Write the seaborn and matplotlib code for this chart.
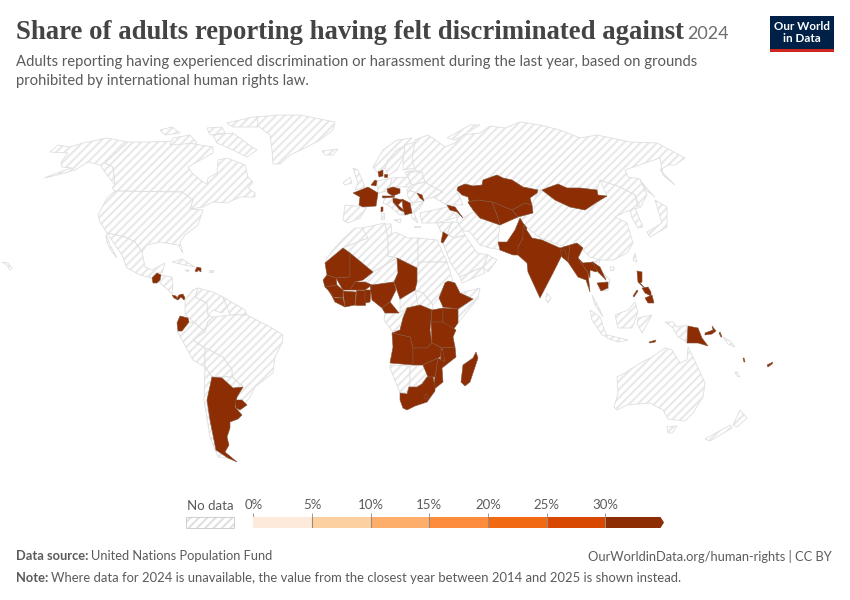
import numpy as np
import seaborn as sns
import matplotlib.pyplot as plt
from matplotlib.colors import ListedColormap
from matplotlib.patches import Rectangle

# legend
tick_labels = ['0%', '5%', '10%', '15%', '20%', '25%', '30%']
bin_colors = ['#feeadb', '#fdd0a2', '#fdae6b', '#fd8d3c', '#f16913', '#d94801', '#8c2d04']

# outlines (x, y)
# --- no data ---
alaska = [(44,178),(57,173),(72,168),(62,167),(61,162),(68,153),(50,152),(58,145),(70,147),(83,143),(107,138),(128,142),(105,163),(113,167),(115,185),(107,175),(100,165),(88,162),(75,170),(57,175)]
canada = [(128,142),(150,142),(175,141),(200,145),(213,147),(213,153),(188,167),(192,173),(203,182),(207,184),(208,178),(217,173),(218,160),(227,158),(245,165),(248,177),(253,182),(248,188),(255,193),(255,197),(240,197),(227,203),(213,202),(203,207),(190,209),(193,200),(182,192),(115,191),(112,188),(115,185),(113,167),(105,163)]
baffin = [(213,135),(233,133),(252,147),(257,150),(247,157),(233,150),(217,143)]
victoria = [(173,138),(190,135),(197,143),(170,145)]
ellesmere = [(227,123),(253,117),(277,117),(257,127),(233,127)]
banks = [(160,130),(172,127),(180,133),(165,135)]
devon = [(207,128),(222,127),(225,133),(210,135)]
greenland = [(257,117),(277,115),(300,115),(335,122),(333,130),(320,140),(305,148),(290,155),(280,164),(273,164),(272,150),(270,135),(258,126)]
usa = [(115,191),(182,192),(193,200),(190,209),(203,210),(198,225),(185,235),(180,242),(183,253),(178,245),(160,242),(147,245),(142,252),(135,242),(125,237),(107,233),(100,222),(98,215),(107,198)]
mexico = [(107,233),(125,237),(135,242),(142,252),(145,267),(152,270),(165,263),(162,273),(155,273),(152,278),(140,275),(127,268),(122,255),(115,245)]
baja = [(106,234),(110,245),(117,258),(112,252),(107,243)]
central_am = [(160,283),(159,280),(160,275),(172,277),(173,285),(172,294),(168,290)]
cuba = [(172,262),(182,259),(195,267),(185,265)]
jamaica = [(185,270),(189,270),(188,272)]
puerto_rico = [(209,270),(213,270),(213,272),(209,272)]
colombia = [(185,300),(193,290),(198,288),(195,297),(207,303),(208,315),(213,317),(208,322),(205,332),(200,328),(195,323),(189,318),(185,315)]
venezuela = [(198,288),(213,292),(223,297),(227,307),(222,313),(213,310),(208,315),(207,303),(195,297)]
guyanas = [(223,297),(245,310),(247,315),(230,315),(227,307)]
peru = [(177,331),(182,331),(189,322),(195,323),(205,332),(193,340),(205,348),(205,367),(193,360)]
brazil = [(213,317),(230,315),(247,315),(270,327),(283,335),(282,343),(275,357),(273,373),(255,387),(250,397),(242,407),(235,400),(243,387),(232,377),(232,370),(223,357),(205,348),(193,340),(205,332),(208,322)]
bolivia = [(205,348),(223,357),(232,370),(232,377),(212,377),(205,367)]
paraguay = [(212,377),(232,377),(243,387),(235,390),(227,383),(222,378)]
chile = [(205,367),(212,377),(207,400),(210,420),(216,450),(228,458),(218,457),(210,437),(204,400)]
morocco = [(325,263),(327,258),(333,250),(342,240),(355,228),(362,228),(368,230),(368,238),(345,247),(343,248)]
algeria = [(362,228),(385,223),(387,233),(388,238),(388,256),(397,258),(373,272),(343,248),(368,238)]
tunisia = [(385,224),(391,224),(392,235),(388,238)]
libya = [(388,238),(395,232),(408,238),(418,238),(418,268),(397,258),(388,256)]
egypt = [(418,238),(437,240),(447,262),(420,262),(418,268)]
niger = [(373,272),(397,258),(398,273),(394,282),(372,285),(365,282)]
sudan = [(417,268),(420,262),(447,262),(453,282),(445,283),(439,298),(433,305),(423,293),(415,290),(417,282)]
south_sudan = [(415,290),(423,293),(433,305),(432,310),(420,305),(418,305)]
car = [(400,299),(415,290),(418,305),(407,308),(400,313)]
eritrea_somalia = [(460,293),(480,288),(478,298),(458,323),(458,310),(473,299)]
gabon_congo = [(385,313),(399,313),(407,308),(403,318),(400,330),(392,331),(384,320)]
namibia = [(390,365),(410,366),(410,383),(407,392),(400,393),(390,368)]
botswana = [(410,366),(423,365),(428,377),(420,385),(410,387)]
spain = [(345,205),(367,207),(360,218),(348,223),(343,220)]
uk = [(353,168),(358,170),(365,187),(355,190),(358,183)]
ireland = [(343,183),(350,177),(352,183),(345,185)]
iceland = [(322,151),(338,149),(333,155),(325,155)]
norway = [(373,167),(383,150),(397,140),(412,138),(405,145),(397,150),(388,160),(385,168),(377,172)]
sweden = [(385,168),(388,160),(397,150),(405,147),(403,158),(397,170),(388,176)]
finland = [(405,145),(415,142),(420,158),(415,168),(403,170),(403,160)]
germany = [(377,181),(392,178),(390,187),(388,191),(378,193)]
poland = [(392,178),(408,177),(412,187),(400,187),(390,187)]
baltics = [(405,172),(415,170),(422,172),(408,177)]
belarus = [(408,172),(422,172),(425,182),(412,185),(408,177)]
ukraine = [(412,185),(425,182),(433,187),(443,192),(433,197),(423,200),(417,193),(407,190)]
italy = [(385,198),(395,197),(393,203),(403,213),(407,215),(400,215),(388,205),(383,203)]
sardinia = [(381,213),(384,213),(384,219),(381,219)]
sicily = [(394,220),(401,219),(400,223)]
romania = [(407,190),(417,193),(424,201),(412,203),(408,197)]
greece_bg = [(410,203),(424,201),(420,208),(414,213),(418,223),(412,218)]
crete = [(414,226),(420,226),(420,227),(414,227)]
turkey = [(420,213),(447,207),(458,217),(437,223),(422,223)]
russia = [(415,140),(428,135),(437,141),(445,147),(455,143),(462,135),(480,133),(490,126),(505,128),(520,122),(540,125),(560,130),(580,138),(597,135),(630,142),(657,143),(685,158),(675,165),(668,165),(660,170),(675,185),(663,175),(660,158),(648,162),(625,170),(628,177),(640,179),(647,195),(640,208),(635,195),(620,187),(608,183),(600,180),(597,190),(580,188),(567,188),(558,184),(542,190),(538,190),(523,187),(512,180),(503,178),(497,175),(483,180),(482,185),(473,186),(465,184),(458,187),(457,190),(463,205),(447,205),(433,197),(443,192),(433,187),(425,182),(422,172),(415,170),(412,160)]
novaya = [(447,138),(470,125),(480,125),(455,140)]
china = [(542,190),(555,200),(570,207),(585,210),(597,202),(607,196),(600,180),(608,183),(620,187),(635,195),(638,208),(625,212),(615,217),(627,223),(633,243),(627,253),(613,260),(600,260),(590,257),(578,245),(568,248),(540,238),(530,230),(518,220),(512,210),(530,207),(533,203),(537,193)]
iran = [(457,212),(463,218),(473,212),(480,218),(500,225),(498,240),(503,250),(490,248),(480,245),(470,232),(460,230),(457,222)]
syria = [(437,223),(452,222),(448,232),(441,232)]
iraq = [(448,232),(452,222),(458,222),(465,235),(455,238),(448,235)]
saudi = [(443,243),(448,235),(455,238),(465,235),(477,253),(488,255),(483,267),(460,277),(450,262)]
yemen = [(460,277),(483,267),(485,273),(462,283)]
oman = [(483,267),(488,255),(497,260),(488,272)]
vietnam = [(592,262),(600,260),(598,268),(610,280),(608,290),(603,291),(606,280)]
hainan = [(610,267),(614,267),(614,270),(611,271)]
malaya = [(592,295),(600,310),(603,317),(595,305)]
sumatra = [(590,310),(600,317),(607,337),(602,335),(592,320)]
java = [(607,335),(628,340),(618,342),(607,338)]
borneo = [(615,315),(628,310),(635,302),(638,312),(632,328),(618,328)]
sulawesi = [(638,318),(652,315),(642,333),(637,323)]
west_papua = [(665,322),(673,322),(677,327),(687,325),(687,342),(678,337),(673,328)]
solomon = [(723,337),(730,341),(735,347),(728,344)]
new_caledonia = [(735,372),(737,372),(740,377),(737,376)]
australia = [(617,377),(625,373),(642,362),(652,357),(665,348),(672,350),(680,363),(687,360),(688,347),(693,357),(705,383),(703,397),(693,413),(685,421),(668,419),(663,410),(650,403),(627,405),(617,410),(614,407),(618,393)]
tasmania = [(667,427),(677,426),(672,433),(668,433)]
nz_south = [(705,439),(730,425),(732,428),(710,441)]
nz_north = [(733,425),(740,410),(747,418),(737,427)]
japan = [(655,200),(667,207),(667,227),(650,237),(647,232),(662,223),(658,210)]
korea = [(630,210),(635,208),(643,227),(638,228),(632,218)]
sakhalin = [(640,180),(650,192),(655,197),(646,190)]
taiwan = [(635,253),(637,262),(633,260)]
sri_lanka = [(547,293),(551,298),(548,303),(546,300)]
hawaii = [(2,262),(8,263),(12,268),(10,270),(7,265)]
no_data_shapes = [alaska, canada, baffin, victoria, ellesmere, banks, devon, greenland, usa, mexico, baja,
                  central_am, cuba, jamaica, puerto_rico, colombia, venezuela, guyanas, peru, brazil, bolivia,
                  paraguay, chile, morocco, algeria, tunisia, libya, egypt, niger, sudan, south_sudan, car,
                  eritrea_somalia, gabon_congo, namibia, botswana, spain, uk, ireland, iceland, norway,
                  sweden, finland, germany, poland, baltics, belarus, ukraine, italy, sardinia, sicily, romania,
                  greece_bg, crete, turkey, russia, novaya, china, iran, syria, iraq, saudi, yemen, oman, vietnam,
                  hainan, malaya, sumatra, java, borneo, sulawesi, west_papua, solomon, new_caledonia, australia,
                  tasmania, nz_south, nz_north, japan, korea, sakhalin, taiwan, sri_lanka, hawaii]

# --- above 30% ---
guatemala = [(152,278),(157,273),(161,275),(160,280),(157,283),(153,283)]
costa_rica = [(172,295),(176,296),(178,300),(174,298)]
panama = [(177,298),(179,295),(183,294),(185,298),(184,300),(181,297),(178,300)]
haiti = [(195,271),(197,267),(201,268),(201,272),(198,270),(197,272)]
ecuador = [(180,316),(188,318),(189,322),(182,331),(178,331),(177,323)]
argentina = [(212,377),(222,378),(233,388),(243,387),(237,397),(235,407),(242,415),(238,419),(230,422),(230,428),(227,437),(229,445),(225,452),(237,462),(228,458),(216,450),(210,420),(207,400)]
uruguay = [(235,400),(242,400),(247,405),(240,410),(236,408)]
mauritania = [(325,263),(343,248),(350,253),(350,277),(336,278),(327,275)]
mali = [(350,253),(373,272),(363,280),(355,282),(350,290),(343,290),(336,278),(350,277)]
senegal = [(323,280),(327,275),(336,278),(337,285),(325,287)]
guinea = [(328,290),(325,287),(337,285),(343,290),(343,298),(333,297)]
liberia = [(330,292),(335,298),(343,298),(345,307),(335,302)]
ivory_coast = [(343,291),(356,292),(355,305),(345,307)]
ghana = [(356,290),(365,290),(365,305),(355,305)]
benin = [(365,290),(371,290),(370,302),(365,303)]
burkina = [(350,290),(355,282),(365,282),(372,285),(365,290),(356,290)]
nigeria = [(370,285),(372,285),(394,282),(396,290),(390,302),(382,308),(372,300)]
cameroon = [(390,302),(399,313),(385,313),(382,308)]
chad = [(397,258),(417,268),(417,282),(415,290),(400,299),(394,282),(398,273)]
ethiopia = [(448,281),(455,283),(460,293),(473,299),(458,309),(443,307),(439,298),(445,283)]
drc = [(407,308),(420,305),(432,310),(430,330),(432,343),(427,348),(413,348),(410,337),(392,333),(400,330),(403,318)]
uganda = [(432,310),(443,308),(443,322),(431,322)]
kenya = [(443,308),(458,309),(458,323),(453,330),(443,322)]
tanzania = [(431,322),(443,322),(456,330),(453,337),(455,347),(442,348),(432,343)]
angola = [(392,333),(410,337),(413,348),(413,365),(390,363),(393,347)]
zambia = [(413,348),(427,348),(432,343),(442,348),(440,357),(423,365),(413,365)]
malawi = [(440,350),(444,350),(445,362),(441,362)]
mozambique = [(455,347),(456,357),(442,368),(443,382),(433,390),(435,377),(438,358),(445,362),(442,348)]
zimbabwe = [(423,365),(438,358),(435,377),(428,377)]
south_africa = [(400,393),(407,394),(409,387),(417,387),(422,384),(427,377),(433,377),(435,387),(435,391),(427,402),(415,406),(407,410),(403,408),(400,400)]
lesotho = [(424,396),(426,394),(428,395),(428,398),(426,399),(424,398)]
madagascar = [(476,352),(478,358),(470,382),(465,386),(461,382),(463,365),(473,358)]
france = [(353,193),(368,187),(378,193),(376,206),(363,207),(359,205),(360,197)]
corsica = [(381,207),(383,207),(383,211),(381,212)]
belgium = [(371,185),(375,180),(377,181),(376,186)]
denmark = [(378,172),(383,170),(383,176),(379,177)]
zealand = [(384,174),(387,174),(387,177),(384,177)]
czechia = [(387,189),(393,187),(400,189),(400,193),(393,196),(388,193)]
austria = [(382,196),(393,196),(395,197),(383,198)]
croatia = [(393,198),(403,200),(398,205),(407,213),(400,210),(393,202)]
serbia = [(402,199),(410,203),(412,213),(405,215),(403,208)]
moldova = [(417,193),(422,195),(424,201),(420,198)]
caucasus = [(447,205),(455,207),(463,218),(457,212),(450,210)]
jordan = [(443,232),(448,235),(443,243),(441,242)]
kazakhstan = [(457,190),(458,187),(465,184),(473,186),(482,185),(483,180),(497,175),(503,178),(512,180),(523,187),(538,190),(537,193),(530,198),(532,205),(525,203),(512,210),(507,208),(492,202),(478,200),(468,202),(471,207),(468,197),(462,195)]
turkmenistan = [(468,202),(478,200),(492,202),(497,215),(500,225),(480,218),(473,210)]
uzbekistan = [(492,202),(512,210),(518,217),(500,225),(497,215)]
kyrgyz = [(512,210),(525,203),(532,205),(533,213),(518,217)]
mongolia = [(542,190),(547,188),(558,184),(567,188),(580,188),(597,190),(598,195),(607,196),(597,202),(585,210),(570,207),(555,200)]
pakistan = [(498,242),(507,242),(515,230),(520,218),(523,223),(527,228),(523,238),(518,247),(522,255),(513,255),(500,250)]
india = [(523,225),(528,232),(532,238),(542,240),(560,248),(570,245),(568,262),(562,255),(553,273),(540,298),(528,272),(527,263),(518,255),(518,247),(523,238)]
bangladesh = [(560,250),(565,250),(568,262),(562,257)]
myanmar = [(570,245),(577,243),(583,248),(578,258),(588,273),(590,292),(586,280),(578,277),(568,262)]
thailand = [(583,263),(593,262),(600,268),(596,272),(590,270),(590,278),(588,273),(578,258)]
laos = [(592,262),(600,267),(606,280),(598,272)]
cambodia = [(597,283),(608,282),(608,288),(601,291)]
luzon = [(637,271),(642,272),(642,282),(640,283),(645,288),(641,285),(638,282)]
visayas = [(642,288),(648,287),(651,292),(651,296),(645,293)]
mindanao = [(645,298),(652,295),(654,303),(648,303)]
palawan = [(633,296),(637,290),(638,291),(634,297)]
timor = [(649,342),(656,340),(655,342),(650,343)]
png = [(688,326),(698,328),(702,338),(708,346),(698,343),(687,343)]
new_britain = [(705,333),(713,330),(712,326),(716,331),(712,334),(705,335)]
bougainville = [(719,333),(720,332),(722,337),(721,337)]
vanuatu = [(743,358),(744,358),(745,362),(744,362)]
fiji = [(767,365),(773,362),(772,364),(768,367)]
top_bin_shapes = [guatemala, costa_rica, panama, haiti, ecuador, argentina, uruguay, mauritania, mali, senegal,
                  guinea, liberia, ivory_coast, ghana, benin, burkina, nigeria, cameroon, chad, ethiopia, drc,
                  uganda, kenya, tanzania, angola, zambia, malawi, mozambique, zimbabwe, south_africa, lesotho,
                  madagascar, france, corsica, belgium, denmark, zealand, czechia, austria, croatia, serbia,
                  moldova, caucasus, jordan, kazakhstan, turkmenistan, uzbekistan, kyrgyz, mongolia, pakistan,
                  india, bangladesh, myanmar, thailand, laos, cambodia, luzon, visayas, mindanao, palawan, timor,
                  png, new_britain, bougainville, vanuatu, fiji]

sns.set_theme(style='white')
plt.rcParams['font.family'] = ['Lato', 'DejaVu Sans']
plt.rcParams['hatch.linewidth'] = 1.5

fig = plt.figure(figsize=(8.5, 6), dpi=100)
ax = fig.add_axes([0, 0, 1, 1])
ax.set_xlim(0, 850)
ax.set_ylim(600, 0)
ax.axis('off')

# map
for shape in no_data_shapes:
    xs, ys = zip(*shape)
    ax.fill(xs, ys, facecolor='white', edgecolor='#e8e8e8', hatch='////', linewidth=0)
    ax.fill(xs, ys, fill=False, edgecolor='#dedede', linewidth=0.6)
for shape in top_bin_shapes:
    xs, ys = zip(*shape)
    ax.fill(xs, ys, facecolor=bin_colors[-1], edgecolor='#85553a', linewidth=0.4)

# header
ax.text(16, 32.5, 'Share of adults reporting having felt discriminated against', fontsize=19.22,
        family='Liberation Serif', weight='bold', color='#444444', va='center')
ax.text(687, 34, '2024', fontsize=13.0, color='#6e6e6e', va='center')
ax.text(16, 62, 'Adults reporting having experienced discrimination or harassment during the last year, based on grounds',
        fontsize=10.7, color='#5b5b5b', va='center')
ax.text(16, 81, 'prohibited by international human rights law.', fontsize=10.7, color='#5b5b5b', va='center')

# logo
ax.add_patch(Rectangle((770, 16), 64, 36, facecolor='#002147', linewidth=0))
ax.add_patch(Rectangle((770, 49), 64, 3, facecolor='#ce261e', linewidth=0))
ax.text(802, 27, 'Our World', fontsize=8.4, weight='bold', color='white', ha='center', va='center')
ax.text(802, 39, 'in Data', fontsize=8.4, weight='bold', color='white', ha='center', va='center')

# legend
ax.text(210, 506, 'No data', fontsize=9.5, color='#5b5b5b', ha='center', va='center')
ax.add_patch(Rectangle((186, 517), 48, 11, facecolor='white', edgecolor='#e0e0e0', hatch='////', linewidth=0))
ax.add_patch(Rectangle((186, 517), 48, 11, fill=False, edgecolor='#c9c9c9', linewidth=0.6))

cax = fig.add_axes([253.3 / 850, 1 - 528 / 600, (658 - 253.3) / 850, 11 / 600])
sns.heatmap(np.arange(len(bin_colors)).reshape(1, -1), cmap=ListedColormap(bin_colors), cbar=False,
            xticklabels=False, yticklabels=False, ax=cax)
cax.set_xlim(0, 6.9)
cax.set_yticks([])
cax.set_xticks(range(len(tick_labels)))
cax.set_xticklabels(tick_labels, fontsize=9.5, color='#5b5b5b')
cax.tick_params(axis='x', top=True, bottom=False, labeltop=True, labelbottom=False, length=3, width=0.6,
                color='#8a8a8a', pad=1, rotation=0)
for i in range(1, len(tick_labels)):
    cax.axvline(i, color='#9a8a7a', linewidth=0.8)
ax.fill([657, 660.5, 664, 660.5, 657], [517, 517, 522.5, 528, 528], facecolor=bin_colors[-1], linewidth=0)

# footer
ax.text(16, 556.5, 'Data source:', fontsize=9.3, weight='bold', color='#5b5b5b', va='center')
ax.text(91, 556.5, 'United Nations Population Fund', fontsize=9.3, color='#5b5b5b', va='center')
ax.text(832, 556.5, 'OurWorldinData.org/human-rights | CC BY', fontsize=9.3, color='#5b5b5b', ha='right', va='center')
ax.text(16, 577.5, 'Note:', fontsize=9.3, weight='bold', color='#5b5b5b', va='center')
ax.text(51, 577.5, 'Where data for 2024 is unavailable, the value from the closest year between 2014 and 2025 is shown instead.',
        fontsize=9.33, color='#5b5b5b', va='center')

fig.savefig('out.png', dpi=100)
